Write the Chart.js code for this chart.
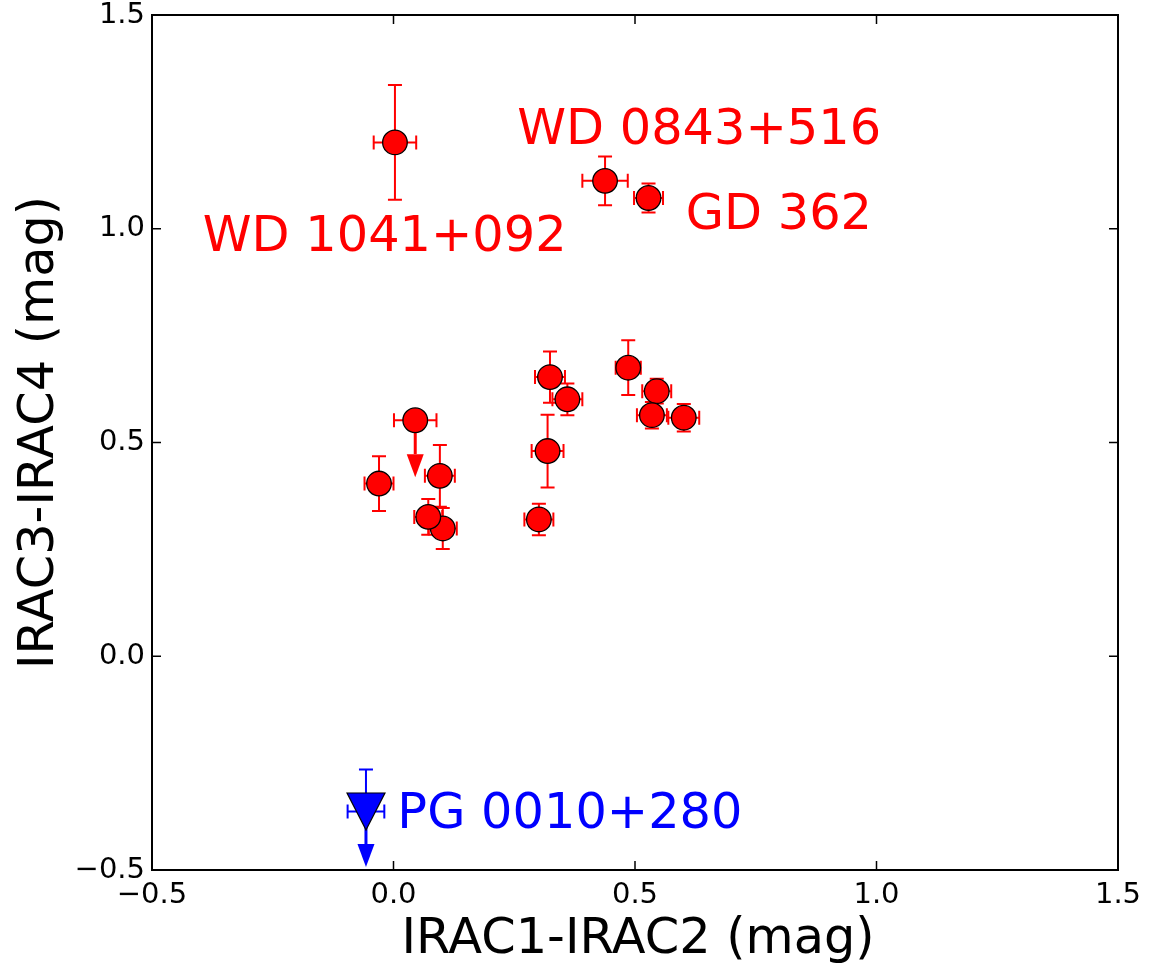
<!DOCTYPE html>
<html>
<head>
<meta charset="utf-8">
<script src="https://cdn.jsdelivr.net/npm/chart.js@4.4.1/dist/chart.umd.min.js"></script>
<style>
  html, body { margin: 0; padding: 0; background: #fff; }
  #wrap { width: 1150px; height: 965px; }
</style>
</head>
<body>
<div id="wrap"><canvas id="irac" width="1150" height="965"></canvas></div>
<script>
// Colour-colour values (IRAC1-IRAC2, IRAC3-IRAC4)
const redX    = [0.003, 0.438, 0.528, 0.045, -0.030, 0.096, 0.102, 0.072, 0.324, 0.360, 0.486, 0.545, 0.535, 0.601, 0.319, 0.301];
const redY    = [1.202, 1.112, 1.072, 0.552, 0.404, 0.422, 0.299, 0.326, 0.653, 0.601, 0.675, 0.620, 0.564, 0.558, 0.480, 0.320];
const redXErr = [0.044, 0.047, 0.030, 0.044, 0.030, 0.031, 0.029, 0.029, 0.031, 0.031, 0.026, 0.030, 0.031, 0.032, 0.033, 0.030];
const redYErr = [0.134, 0.057, 0.034, 0.000, 0.064, 0.072, 0.048, 0.042, 0.060, 0.037, 0.064, 0.029, 0.031, 0.032, 0.085, 0.037];
// upper limit arrows: null = no limit, otherwise value where the arrow tip ends
const redLimitTo = [null, null, null, 0.419, null, null, null, null, null, null, null, null, null, null, null, null];

const blueX = [-0.057];
const blueY = [-0.363];
const blueXErr = [0.038];
const blueYErrUp = [0.098];
const blueLimitTo = [-0.493];

const labelText  = ['WD 0843+516', 'GD 362', 'WD 1041+092', 'PG 0010+280'];
const labelX     = [0.256, 0.605, -0.395, 0.008];
const labelY     = [1.199, 1.000, 0.948, -0.401];
const labelColor = ['#ff0000', '#ff0000', '#ff0000', '#0000ff'];

const tickValues = [-0.5, 0.0, 0.5, 1.0, 1.5];
const xTitle = 'IRAC1-IRAC2 (mag)';
const yTitle = 'IRAC3-IRAC4 (mag)';

Chart.defaults.font.family = "'DejaVu Sans', sans-serif";
Chart.defaults.color = '#000';

function fmtTick(v) {
    const s = Math.abs(v).toFixed(1);
    return v < 0 ? '\u2212' + s : s;
}

// downward triangle marker for the blue point
function triangleDown(w, h, fill) {
    const c = document.createElement('canvas');
    c.width = w + 2; c.height = h + 2;
    const g = c.getContext('2d');
    g.beginPath();
    g.moveTo(1, 1);
    g.lineTo(w + 1, 1);
    g.lineTo(w / 2 + 1, h + 1);
    g.closePath();
    g.fillStyle = fill;
    g.fill();
    g.lineWidth = 1.2;
    g.strokeStyle = '#000';
    g.stroke();
    return c;
}

function drawArrow(ctx, x, y0, y1, color) {
    const headLen = 23, headW = 8.5;
    ctx.save();
    ctx.strokeStyle = color;
    ctx.fillStyle = color;
    ctx.lineWidth = 3;
    ctx.beginPath();
    ctx.moveTo(x, y0);
    ctx.lineTo(x, y1 - headLen);
    ctx.stroke();
    ctx.beginPath();
    ctx.moveTo(x - headW, y1 - headLen);
    ctx.lineTo(x + headW, y1 - headLen);
    ctx.lineTo(x, y1);
    ctx.closePath();
    ctx.fill();
    ctx.restore();
}

// symmetric error bars with caps
function drawErr(ctx, xs, ys, x, y, ex, ey, color) {
    const cap = 7;
    const cx = xs.getPixelForValue(x), cy = ys.getPixelForValue(y);
    ctx.save();
    ctx.strokeStyle = color;
    ctx.lineWidth = 2;
    ctx.beginPath();
    if (ex > 0) {
        const pl = xs.getPixelForValue(x - ex), pr = xs.getPixelForValue(x + ex);
        ctx.moveTo(pl, cy); ctx.lineTo(pr, cy);
        ctx.moveTo(pl, cy - cap); ctx.lineTo(pl, cy + cap);
        ctx.moveTo(pr, cy - cap); ctx.lineTo(pr, cy + cap);
    }
    if (ey > 0) {
        const pt = ys.getPixelForValue(y + ey), pb = ys.getPixelForValue(y - ey);
        ctx.moveTo(cx, pt); ctx.lineTo(cx, pb);
        ctx.moveTo(cx - cap, pt); ctx.lineTo(cx + cap, pt);
        ctx.moveTo(cx - cap, pb); ctx.lineTo(cx + cap, pb);
    }
    ctx.stroke();
    ctx.restore();
}

const errorBars = {
    id: 'errorBars',
    beforeDatasetsDraw(chart) {
        const ctx = chart.ctx, xs = chart.scales.x, ys = chart.scales.y;
        const a = chart.chartArea;
        ctx.save();
        ctx.beginPath();
        ctx.rect(a.left, a.top, a.width, a.height);
        ctx.clip();
        redX.forEach((x, i) => {
            drawErr(ctx, xs, ys, x, redY[i], redXErr[i], redYErr[i], '#ff0000');
            if (redLimitTo[i] !== null) {
                drawArrow(ctx, xs.getPixelForValue(x), ys.getPixelForValue(redY[i]),
                          ys.getPixelForValue(redLimitTo[i]), '#ff0000');
            }
        });
        blueX.forEach((x, i) => {
            const cx = xs.getPixelForValue(x), cy = ys.getPixelForValue(blueY[i]);
            drawErr(ctx, xs, ys, x, blueY[i], blueXErr[i], 0, '#0000ff');
            // upward error only, with cap
            const pt = ys.getPixelForValue(blueY[i] + blueYErrUp[i]);
            ctx.save();
            ctx.strokeStyle = '#0000ff';
            ctx.lineWidth = 2;
            ctx.beginPath();
            ctx.moveTo(cx, cy); ctx.lineTo(cx, pt);
            ctx.moveTo(cx - 7, pt); ctx.lineTo(cx + 7, pt);
            ctx.stroke();
            ctx.restore();
            drawArrow(ctx, cx, cy, ys.getPixelForValue(blueLimitTo[i]), '#0000ff');
        });
        ctx.restore();
    },
    afterDatasetsDraw(chart) {
        const ctx = chart.ctx, xs = chart.scales.x, ys = chart.scales.y;
        const a = chart.chartArea;
        // point labels
        ctx.save();
        ctx.font = "49.4px 'DejaVu Sans', sans-serif";
        ctx.textAlign = 'left';
        ctx.textBaseline = 'alphabetic';
        labelText.forEach((t, i) => {
            ctx.fillStyle = labelColor[i];
            ctx.fillText(t, xs.getPixelForValue(labelX[i]), ys.getPixelForValue(labelY[i]));
        });
        // axis titles
        ctx.fillStyle = '#000';
        ctx.textAlign = 'center';
        ctx.fillText(xTitle, (a.left + a.right) / 2 + 3, a.bottom + 83);
        ctx.translate(53, (a.top + a.bottom) / 2 - 10);
        ctx.rotate(-Math.PI / 2);
        ctx.fillText(yTitle, 0, 0);
        ctx.restore();
        // frame + inward ticks on all four sides
        ctx.save();
        ctx.strokeStyle = '#000';
        ctx.lineWidth = 1.5;
        ctx.beginPath();
        const tl = 9;
        tickValues.forEach(v => {
            const px = xs.getPixelForValue(v), py = ys.getPixelForValue(v);
            ctx.moveTo(px, a.bottom); ctx.lineTo(px, a.bottom - tl);
            ctx.moveTo(px, a.top); ctx.lineTo(px, a.top + tl);
            ctx.moveTo(a.left, py); ctx.lineTo(a.left + tl, py);
            ctx.moveTo(a.right, py); ctx.lineTo(a.right - tl, py);
        });
        ctx.stroke();
        ctx.lineWidth = 2;
        ctx.strokeRect(a.left, a.top, a.width, a.height);
        ctx.restore();
    }
};

const redPoints = redX.map((x, i) => ({ x: x, y: redY[i] }));

new Chart(document.getElementById('irac'), {
    type: 'scatter',
    data: {
        datasets: [
            {
                label: 'dusty',
                data: redPoints,
                pointStyle: 'circle',
                pointRadius: 12.3,
                pointHoverRadius: 12.3,
                backgroundColor: '#ff0000',
                borderColor: '#000',
                borderWidth: 1.3
            },
            {
                label: 'PG 0010+280',
                data: blueX.map((x, i) => ({ x: x, y: blueY[i] })),
                pointStyle: triangleDown(38, 37, '#0000ff'),
                pointRadius: 19,
                pointHoverRadius: 19
            }
        ]
    },
    options: {
        responsive: false,
        animation: false,
        events: [],
        layout: { autoPadding: false, padding: { top: 15, right: 32, left: 0, bottom: 0 } },
        plugins: {
            legend: { display: false },
            tooltip: { enabled: false }
        },
        scales: {
            x: {
                type: 'linear',
                min: -0.5, max: 1.5,
                afterFit: s => { s.height = 95; s.paddingLeft = 0; s.paddingRight = 0; },
                afterBuildTicks: s => { s.ticks = tickValues.map(v => ({ value: v })); },
                grid: { display: false, drawTicks: false },
                border: { display: false },
                ticks: {
                    padding: 11,
                    font: { size: 29, lineHeight: 1 },
                    color: '#000',
                    maxRotation: 0,
                    autoSkip: false,
                    callback: v => fmtTick(v)
                }
            },
            y: {
                type: 'linear',
                min: -0.5, max: 1.5,
                afterFit: s => { s.width = 152; s.paddingTop = 0; s.paddingBottom = 0; },
                afterBuildTicks: s => { s.ticks = tickValues.map(v => ({ value: v })); },
                grid: { display: false, drawTicks: false },
                border: { display: false },
                ticks: {
                    padding: 7,
                    font: { size: 29, lineHeight: 1 },
                    color: '#000',
                    autoSkip: false,
                    callback: v => fmtTick(v)
                }
            }
        }
    },
    plugins: [errorBars]
});
</script>
</body>
</html>
